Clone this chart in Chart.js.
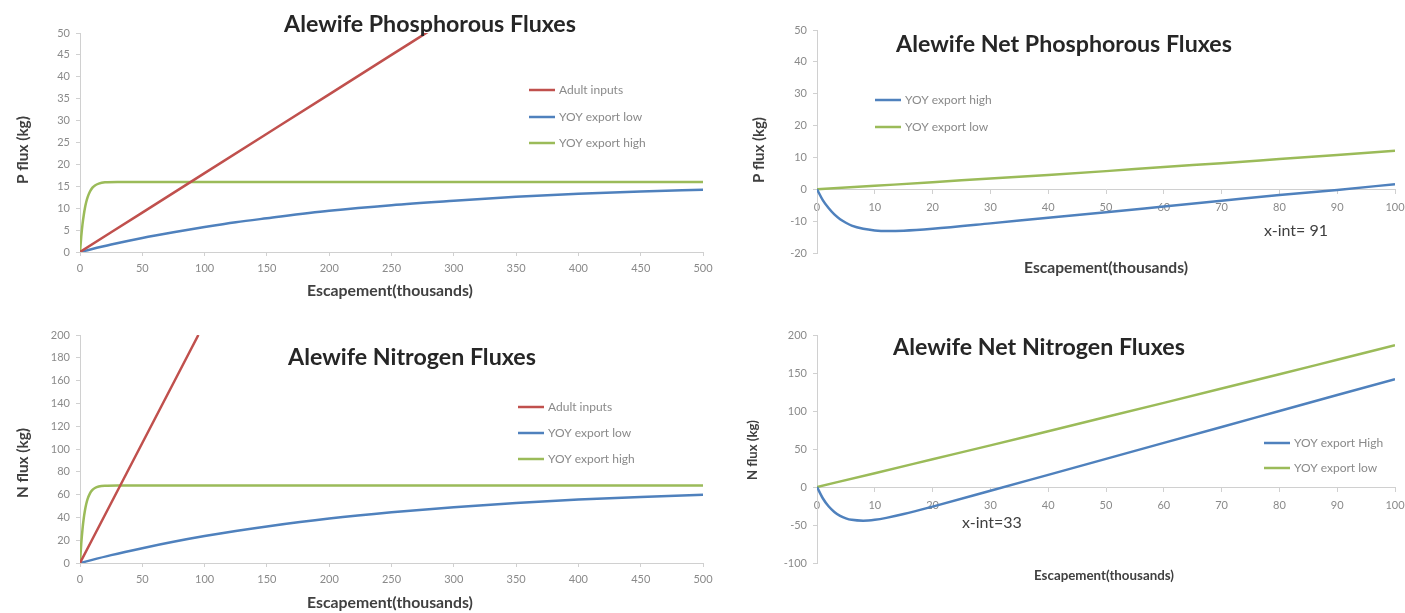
<!DOCTYPE html>
<html><head><meta charset="utf-8">
<script src="https://cdn.jsdelivr.net/npm/chart.js@4.4.1/dist/chart.umd.min.js"></script>
<style>
html,body{margin:0;padding:0;background:#fff;}
body{position:relative;width:1405px;height:613px;overflow:hidden;}
canvas{position:absolute;}
</style></head><body>
<canvas id="c1" width="720" height="300" style="left:0;top:0"></canvas>
<canvas id="c2" width="685" height="300" style="left:720px;top:0"></canvas>
<canvas id="c3" width="720" height="313" style="left:0;top:300px"></canvas>
<canvas id="c4" width="685" height="313" style="left:720px;top:300px"></canvas>
<script>
// ---------- DATA ----------
// Chart 1: Alewife Phosphorous Fluxes (escapement, thousands)
const adultX   = [0, 50, 100, 150, 200, 250, 280];
const adultP   = [0, 9, 18, 27, 36, 45, 50.4];
const yoyHighX = [0, 1, 2, 3, 4, 5, 6, 8, 10, 12, 15, 20, 30, 50, 100, 200, 300, 400, 500];
const yoyHighP = [0, 3.5, 6.3, 8.4, 10.1, 11.4, 12.4, 13.8, 14.7, 15.2, 15.6, 15.9, 16, 16, 16, 16, 16, 16, 16];
const yoyLowX  = [0, 25, 50, 75, 100, 125, 150, 200, 250, 300, 350, 400, 450, 500];
const yoyLowP  = [0, 1.7, 3.2, 4.5, 5.7, 6.8, 7.7, 9.4, 10.7, 11.7, 12.6, 13.3, 13.8, 14.2];

// Chart 3: Alewife Nitrogen Fluxes
const adultNX  = [0, 25, 50, 75, 95];
const adultN   = [0, 52.6, 105.3, 157.9, 200];
const yoyHighN = [0, 16.9, 29.6, 39.1, 46.3, 51.7, 55.8, 61.1, 64.1, 65.8, 67.1, 67.8, 68, 68, 68, 68, 68, 68, 68];
const yoyLowN  = [0, 6.9, 13, 18.6, 23.6, 28.1, 32.1, 39, 44.5, 49, 52.7, 55.6, 58, 59.9];

// Chart 2: Alewife Net Phosphorous Fluxes
const netX     = [0, 1, 2, 3, 4, 5, 6, 8, 10, 12, 15, 20, 30, 40, 50, 60, 70, 80, 90, 100];
const netHighP = [0, -3.4, -5.9, -7.9, -9.4, -10.5, -11.4, -12.4, -12.9, -13.1, -13, -12.4, -10.7, -8.9, -7.2, -5.4, -3.6, -1.8, -0.2, 1.6];
const netLowX  = [0, 10, 20, 30, 40, 50, 60, 70, 80, 90, 100];
const netLowP  = [0, 1.1, 2.2, 3.4, 4.5, 5.7, 7, 8.2, 9.5, 10.8, 12.1];

// Chart 4: Alewife Net Nitrogen Fluxes
const netHighN = [0, -14.8, -25.4, -32.8, -37.9, -41.2, -43.2, -44.3, -43.1, -40.6, -35.6, -25.8, -5, 16, 37, 58, 79, 100, 121, 142];
const netLowN  = [0, 18.2, 36.5, 54.8, 73.4, 92, 110.7, 129.5, 148.4, 167.4, 186.4];

// ---------- STYLE ----------
const FONT = 'Lato, "Open Sans", sans-serif';
const RED = '#C0504D', BLUE = '#4F81BD', GREEN = '#9BBB59';
const AX = '#d0d0d0', TICK = '#8a8a8a', DARK = '#262626', LEG = '#8a8a8a';

function pts(xs, ys) { return xs.map((x, i) => ({ x: x, y: ys[i] })); }
function ds(label, xs, ys, color) {
  return { label, data: pts(xs, ys), borderColor: color, backgroundColor: color,
    borderWidth: 2.5, pointRadius: 0, cubicInterpolationMode: 'monotone', fill: false };
}

function fitSize(ctx, text, weight, width) {
  ctx.font = `${weight} 20px ${FONT}`;
  return 20 * width / ctx.measureText(text).width;
}

const overlayPlugin = {
  id: 'overlay',
  afterDraw(chart, args, o) {
    const ctx = chart.ctx;
    ctx.save();
    ctx.textBaseline = 'middle';
    const put = (t, weight, color, align) => {
      const size = t.w ? fitSize(ctx, t.text, weight, t.w) : t.size;
      ctx.font = `${weight} ${size}px ${FONT}`;
      ctx.fillStyle = color;
      ctx.textAlign = align;
      if (t.rot) {
        ctx.save(); ctx.translate(t.x, t.y); ctx.rotate(-Math.PI / 2);
        ctx.fillText(t.text, 0, 0); ctx.restore();
      } else ctx.fillText(t.text, t.x, t.y);
    };
    if (o.title) put(o.title, '700', DARK, 'center');
    if (o.xTitle) put(o.xTitle, '700', '#404040', 'center');
    if (o.yTitle) put(Object.assign({ rot: true }, o.yTitle), '700', '#404040', 'center');
    if (o.legend) {
      const L = o.legend;
      chart.data.datasets.forEach((d, i) => {
        const y = L.ys[i];
        ctx.strokeStyle = d.borderColor; ctx.lineWidth = 2.5;
        ctx.beginPath(); ctx.moveTo(L.x1, y); ctx.lineTo(L.x2, y); ctx.stroke();
        ctx.font = `400 ${L.size}px ${FONT}`; ctx.fillStyle = LEG; ctx.textAlign = 'left';
        ctx.fillText(d.label, L.tx, y);
      });
    }
    (o.notes || []).forEach(n => put(n, '400', '#404040', 'left'));
    ctx.restore();
  }
};

function xAxis(min, max, step, center, height) {
  return {
    type: 'linear', min, max, position: center ? { y: 0 } : 'bottom',
    ticks: { stepSize: step, color: TICK, font: { family: FONT, size: 11 }, padding: center ? 8 : 6,
      maxRotation: 0, autoSkip: false, maxTicksLimit: 30 },
    grid: { drawOnChartArea: false, drawTicks: true, tickLength: 4, color: AX },
    border: { color: AX, width: 1 },
    afterFit(s) { if (!center) s.height = height; s.paddingLeft = 0; s.paddingRight = 0; }
  };
}
function yAxis(min, max, step, width) {
  return {
    type: 'linear', min, max, position: 'left',
    ticks: { stepSize: step, color: TICK, font: { family: FONT, size: 11 }, padding: 6, maxTicksLimit: 30 },
    grid: { drawOnChartArea: false, drawTicks: true, tickLength: 4, color: AX },
    border: { color: AX, width: 1 },
    afterFit(s) { s.width = width; s.paddingTop = 0; s.paddingBottom = 0; }
  };
}

function make(id, datasets, scales, padding, overlay) {
  return new Chart(document.getElementById(id), {
    type: 'line',
    data: { datasets },
    options: {
      responsive: false, animation: false, parsing: true,
      layout: { padding },
      scales,
      plugins: { legend: { display: false }, title: { display: false }, tooltip: { enabled: false }, overlay }
    },
    plugins: [overlayPlugin]
  });
}

// Chart 1
make('c1', [
  ds('Adult inputs', adultX, adultP, RED),
  ds('YOY export low', yoyLowX, yoyLowP, BLUE),
  ds('YOY export high', yoyHighX, yoyHighP, GREEN)
], { x: xAxis(0, 500, 50, false, 48), y: yAxis(0, 50, 5, 80) },
{ left: 0, right: 17, top: 33, bottom: 0 },
{ title: { text: 'Alewife Phosphorous Fluxes', x: 430, y: 25, w: 292 },
  xTitle: { text: 'Escapement(thousands)', x: 390, y: 291, w: 166 },
  yTitle: { text: 'P flux (kg)', x: 23, y: 150, w: 68 },
  legend: { x1: 529, x2: 555, tx: 559, ys: [90, 117, 143], size: 12 } });

// Chart 2
make('c2', [
  ds('YOY export high', netX, netHighP, BLUE),
  ds('YOY export low', netLowX, netLowP, GREEN)
], { x: xAxis(0, 100, 10, true, 0), y: yAxis(-20, 50, 10, 97) },
{ left: 0, right: 10, top: 30, bottom: 47 },
{ title: { text: 'Alewife Net Phosphorous Fluxes', x: 344, y: 45, w: 336 },
  xTitle: { text: 'Escapement(thousands)', x: 386, y: 268, w: 164 },
  yTitle: { text: 'P flux (kg)', x: 39, y: 150, w: 66 },
  legend: { x1: 155, x2: 181, tx: 185, ys: [100, 127], size: 12 },
  notes: [{ text: 'x-int= 91', x: 544, y: 231, size: 16 }] });

// Chart 3
make('c3', [
  ds('Adult inputs', adultNX, adultN, RED),
  ds('YOY export low', yoyLowX, yoyLowN, BLUE),
  ds('YOY export high', yoyHighX, yoyHighN, GREEN)
], { x: xAxis(0, 500, 50, false, 50), y: yAxis(0, 200, 20, 80) },
{ left: 0, right: 17, top: 35, bottom: 0 },
{ title: { text: 'Alewife Nitrogen Fluxes', x: 412, y: 58, w: 248 },
  xTitle: { text: 'Escapement(thousands)', x: 390, y: 303, w: 166 },
  yTitle: { text: 'N flux (kg)', x: 23, y: 163, w: 70 },
  legend: { x1: 518, x2: 544, tx: 548, ys: [107, 133, 159], size: 12 } });

// Chart 4
make('c4', [
  ds('YOY export High', netX, netHighN, BLUE),
  ds('YOY export low', netLowX, netLowN, GREEN)
], { x: xAxis(0, 100, 10, true, 0), y: yAxis(-100, 200, 50, 97) },
{ left: 0, right: 10, top: 35, bottom: 50 },
{ title: { text: 'Alewife Net Nitrogen Fluxes', x: 319, y: 48, w: 292 },
  xTitle: { text: 'Escapement(thousands)', x: 384, y: 276, w: 140 },
  yTitle: { text: 'N flux (kg)', x: 33, y: 150, w: 60 },
  legend: { x1: 544, x2: 570, tx: 574, ys: [143, 168], size: 12 },
  notes: [{ text: 'x-int=33', x: 242, y: 223, size: 16 }] });
</script>
</body></html>
